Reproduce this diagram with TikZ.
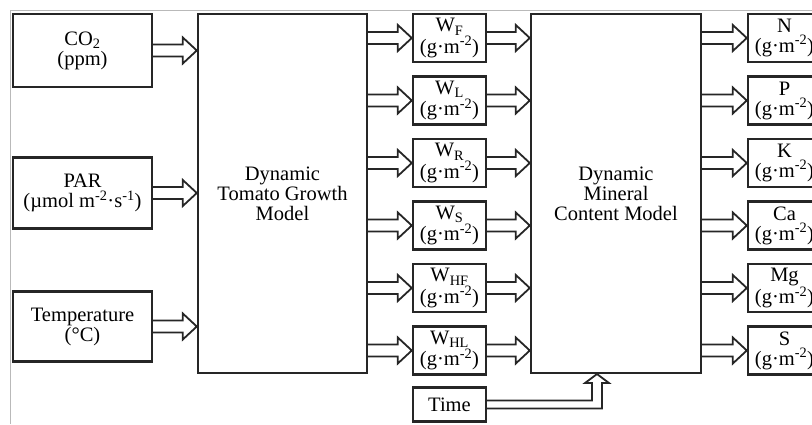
\documentclass[tikz,border=0pt]{standalone}
\usepackage{fontspec}
\setmainfont{Liberation Serif}
\usetikzlibrary{calc}

\tikzset{
  box/.style={draw=black!85, line width=2.4pt, align=center, inner sep=0pt},
  fat/.style={draw=black!85, line width=1.8pt, to path={let \p1=(\tikztostart), \p2=(\tikztotarget) in
    (\x1,\y1+6pt) -- (\x2-14pt,\y1+6pt) -- (\x2-14pt,\y1+13pt) -- (\x2,\y1)
    -- (\x2-14pt,\y1-13pt) -- (\x2-14pt,\y1-6pt) -- (\x1,\y1-6pt)}},
}
\newcommand{\gm}{(g·m\textsuperscript{-2})}

\begin{document}
\begin{tikzpicture}[x=1pt, y=-1pt, font=\fontsize{20.5}{20}\selectfont]
\useasboundingbox (0,0) rectangle (812,424);
\clip (0,0) rectangle (812,424);
\draw[gray!55, line width=1pt] (10,424) -- (10,10) -- (812,10);
% inputs
\node[box, minimum width=139, minimum height=73] (co2)  at (82.5,50.5)  {CO\textsubscript{2}\\(ppm)};
\node[box, minimum width=139, minimum height=71] (par)  at (82.5,193)   {PAR\\(µmol m\textsuperscript{-2}·s\textsuperscript{-1})};
\node[box, minimum width=139, minimum height=70] (temp) at (82.5,326.5) {Temperature\\(°C)};
% the two models
\node[box, minimum width=169, minimum height=359] (growth)  at (282.5,193.5) {Dynamic\\Tomato Growth\\Model};
\node[box, minimum width=170, minimum height=359] (mineral) at (616,193.5)   {Dynamic\\Mineral\\Content Model};
% dry weights, top to bottom
\node[box, minimum width=73, minimum height=48] (wf)  at (449.5,38)    {W\textsubscript{F}\\\gm};
\node[box, minimum width=73, minimum height=48] (wl)  at (449.5,100.5) {W\textsubscript{L}\\\gm};
\node[box, minimum width=73, minimum height=48] (wr)  at (449.5,163)   {W\textsubscript{R}\\\gm};
\node[box, minimum width=73, minimum height=48] (ws)  at (449.5,225.5) {W\textsubscript{S}\\\gm};
\node[box, minimum width=73, minimum height=48] (whf) at (449.5,288)   {W\textsubscript{HF}\\\gm};
\node[box, minimum width=73, minimum height=48] (whl) at (449.5,350.5) {W\textsubscript{HL}\\\gm};
\node[box, minimum width=73, minimum height=34] (time) at (449.5,404.5) {Time};
% minerals, top to bottom
\node[box, minimum width=73, minimum height=48] (n)  at (784.5,38)    {N\\\gm};
\node[box, minimum width=73, minimum height=48] (p)  at (784.5,100.5) {P\\\gm};
\node[box, minimum width=73, minimum height=48] (k)  at (784.5,163)   {K\\\gm};
\node[box, minimum width=73, minimum height=48] (ca) at (784.5,225.5) {Ca\\\gm};
\node[box, minimum width=73, minimum height=48] (mg) at (784.5,288)   {Mg\\\gm};
\node[box, minimum width=73, minimum height=48] (s)  at (784.5,350.5) {S\\\gm};
%
\draw[fat] (co2.east)  to (co2.east -| growth.west);
\draw[fat] (par.east)  to (par.east -| growth.west);
\draw[fat] (temp.east) to (temp.east -| growth.west);
\foreach \w in {wf,wl,wr,ws,whf,whl}{
  \draw[fat] (\w.west -| growth.east) to (\w.west);
  \draw[fat] (\w.east) to (\w.east -| mineral.west);
}
\foreach \m in {n,p,k,ca,mg,s}
  \draw[fat] (\m.west -| mineral.east) to (\m.west);
% time goes in from below
\coordinate (tin) at (597,374);
\draw[draw=black!85, line width=1.8pt] let \p1=(time.east), \p2=(tin) in
  (\x1,\y1+4pt) -- (\x2-5pt,\y1+4pt) -- (\x2-5pt,\y2-9pt) -- (\x2-12pt,\y2-9pt) -- (\x2,\y2)
  -- (\x2+12pt,\y2-9pt) -- (\x2+5pt,\y2-9pt) -- (\x2+5pt,\y1-4pt) -- (\x1,\y1-4pt);
\end{tikzpicture}
\end{document}
